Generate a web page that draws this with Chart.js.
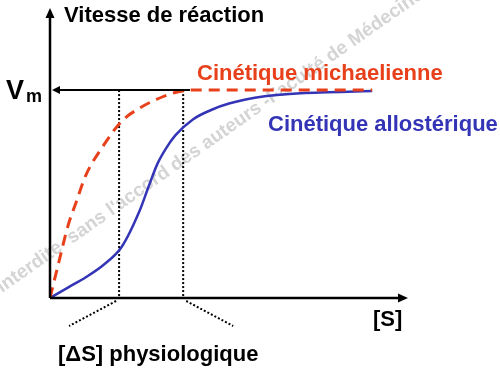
<!DOCTYPE html>
<html>
<head>
<meta charset="utf-8">
<script src="https://cdn.jsdelivr.net/npm/chart.js@4/dist/chart.umd.min.js"></script>
<style>
  html,body{margin:0;padding:0;background:#fff;}
  #wrap{width:500px;height:372px;position:relative;}
</style>
</head>
<body>
<div id="wrap"><canvas id="c" width="500" height="372"></canvas></div>
<script>
// [S] (arbitrary units) and rate v / Vm
const S_MICHAELIS = [0, 0.25, 0.5, 0.75, 1, 1.5, 2, 2.5, 3, 3.5, 4, 9];
const V_MICHAELIS = [0, 0.175, 0.346, 0.47, 0.59, 0.735, 0.85, 0.913, 0.957, 0.988, 1, 1];
const S_ALLO = [0, 0.5, 1, 1.5, 2, 2.5, 2.75, 3, 3.25, 3.5, 4, 4.5, 5, 6, 7, 9];
const V_ALLO = [0, 0.05, 0.1, 0.16, 0.245, 0.418, 0.534, 0.645, 0.722, 0.782, 0.86, 0.904, 0.935, 0.97, 0.985, 0.995];
const VM = 1;
const VM_ARROW_END = 3.91;          // where the Vm arrow starts on the right
const PHYSIO_RANGE = [1.93, 3.72];  // physiological [S] window
const X_MAX = 10, Y_MAX = 1.385;

const RED = '#e8401a', BLUE = '#3434b6';
const FONT = '"Liberation Sans", Arial, sans-serif';

function pts(xs, ys){ return xs.map((x,i)=>({x, y: ys[i]})); }

function arrowHead(ctx, x, y, dir, len, half){
  // dir: 'up' | 'right' | 'left'
  ctx.beginPath();
  if(dir==='up'){ ctx.moveTo(x, y); ctx.lineTo(x-half, y+len); ctx.lineTo(x+half, y+len); }
  else if(dir==='right'){ ctx.moveTo(x, y); ctx.lineTo(x-len, y-half); ctx.lineTo(x-len, y+half); }
  else { ctx.moveTo(x, y); ctx.lineTo(x+len, y-half); ctx.lineTo(x+len, y+half); }
  ctx.closePath(); ctx.fill();
}

const watermark = {
  id: 'watermark',
  beforeDraw(chart){
    const ctx = chart.ctx;
    ctx.save();
    ctx.translate(2, 293);
    ctx.rotate(-35 * Math.PI/180);
    ctx.fillStyle = '#d4d4d4';
    ctx.font = 'bold 19px ' + FONT;
    ctx.textBaseline = 'alphabetic';
    ctx.textAlign = 'right';
    ctx.fillText('Reproduction ', 0, 0);
    ctx.textAlign = 'left';
    ctx.fillText("interdite  sans l'accord des auteurs -Faculté de Médecine", 0, 0);
    ctx.restore();
  }
};

const guides = {
  id: 'guides',
  beforeDatasetsDraw(chart){
    const {ctx, chartArea:a, scales:{x, y}} = chart;
    ctx.save();
    // dotted verticals + diagonals
    ctx.strokeStyle = '#000'; ctx.lineWidth = 2; ctx.setLineDash([2, 2]);
    PHYSIO_RANGE.forEach((s, i)=>{
      const px = x.getPixelForValue(s);
      ctx.beginPath(); ctx.moveTo(px, y.getPixelForValue(VM)); ctx.lineTo(px, y.getPixelForValue(0)); ctx.stroke();
      const sgn = i===0 ? -1 : 1;
      ctx.beginPath(); ctx.moveTo(px + sgn*3, a.bottom + 3); ctx.lineTo(px + sgn*50, a.bottom + 28); ctx.stroke();
    });
    ctx.restore();
  },
  afterDatasetsDraw(chart){
    const {ctx, chartArea:a, scales:{x, y}} = chart;
    ctx.save();
    ctx.strokeStyle = '#000'; ctx.fillStyle = '#000';
    // Vm arrow
    const vy = y.getPixelForValue(VM);
    ctx.lineWidth = 2;
    ctx.beginPath(); ctx.moveTo(x.getPixelForValue(VM_ARROW_END), vy); ctx.lineTo(a.left + 4, vy); ctx.stroke();
    arrowHead(ctx, a.left + 2, vy, 'left', 8, 4);
    // axes
    ctx.lineWidth = 2.5;
    ctx.beginPath(); ctx.moveTo(a.left, a.bottom); ctx.lineTo(a.left, a.top + 6); ctx.stroke();
    arrowHead(ctx, a.left, a.top - 2, 'up', 10, 4.5);
    ctx.beginPath(); ctx.moveTo(a.left, a.bottom); ctx.lineTo(a.right - 6, a.bottom); ctx.stroke();
    arrowHead(ctx, a.right, a.bottom, 'right', 10, 4.5);

    // labels
    ctx.textBaseline = 'alphabetic'; ctx.textAlign = 'left';
    ctx.font = 'bold 22px ' + FONT;
    ctx.fillText('Vitesse de réaction', 64, 22);
    ctx.fillText('[S]', 373, 326);
    ctx.fillText('[\u0394S] physiologique', 58, 361);
    ctx.font = 'bold 27px ' + FONT;
    ctx.fillText('V', 6, 99);
    ctx.font = 'bold 18px ' + FONT;
    ctx.fillText('m', 26, 102);
    ctx.font = 'bold 22px ' + FONT;
    ctx.fillStyle = RED;
    ctx.fillText('Cinétique michaelienne', 197, 80);
    ctx.fillStyle = BLUE;
    ctx.fillText('Cinétique allostérique', 268, 131);
    ctx.restore();
  }
};

new Chart(document.getElementById('c'), {
  type: 'line',
  data: {
    datasets: [
      { label: 'Cinétique michaelienne', data: pts(S_MICHAELIS, V_MICHAELIS),
        borderColor: RED, borderWidth: 3, borderDash: [11, 7], pointRadius: 0,
        cubicInterpolationMode: 'monotone', fill: false },
      { label: 'Cinétique allostérique', data: pts(S_ALLO, V_ALLO),
        borderColor: BLUE, borderWidth: 2.5, pointRadius: 0,
        cubicInterpolationMode: 'monotone', fill: false }
    ]
  },
  options: {
    responsive: false, animation: false,
    layout: { padding: { left: 50, right: 92, top: 10, bottom: 74 } },
    scales: {
      x: { type: 'linear', min: 0, max: X_MAX, display: false },
      y: { type: 'linear', min: 0, max: Y_MAX, display: false }
    },
    plugins: { legend: { display: false }, tooltip: { enabled: false } }
  },
  plugins: [watermark, guides]
});
</script>
</body>
</html>
